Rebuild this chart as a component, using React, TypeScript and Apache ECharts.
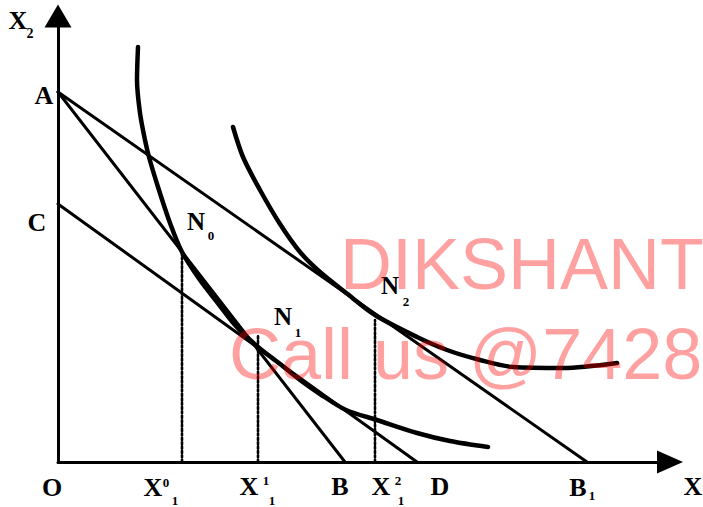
import React, { useEffect, useRef } from "react";
import * as echarts from "echarts";

// Data units: 1 unit = 10 px of the original drawing, origin at O.
const budgetAB1: number[][] = [[0, 37.0], [52.9, 0]];
const budgetAB: number[][] = [[0, 37.0], [28.7, 0]];
const budgetCD: number[][] = [[0, 25.8], [35.9, 0]];

const indiffLow: number[][] = [
  [8.0, 41.5], [7.9, 38.2], [8.2, 34.9], [8.7, 32.2], [9.1, 30.5], [10.0, 27.5],
  [11.2, 23.9], [12.4, 21.0], [14.2, 18.2], [15.9, 16.0], [17.7, 13.7], [20.0, 11.5],
  [22.2, 9.8], [24.2, 8.2], [26.2, 6.8], [28.8, 5.2], [31.9, 4.2], [35.9, 2.9],
  [39.2, 2.1], [43.0, 1.5],
];
const indiffHigh: number[][] = [
  [17.5, 33.5], [18.5, 30.5], [20.2, 27.2], [22.2, 23.8], [24.2, 21.0], [26.2, 19.0],
  [28.7, 17.0], [31.7, 14.7], [35.9, 12.5], [38.9, 11.2], [42.2, 10.2], [45.5, 9.5],
  [50.5, 9.4], [55.9, 9.9],
];
const dropX0: number[][] = [[12.4, 0], [12.4, 21.0]];
const dropX1: number[][] = [[20.0, 0], [20.0, 12.7]];
const dropX2: number[][] = [[31.7, 0], [31.7, 14.2]];

const xMax = 61.2;
const yMax = 44.6;

const watermark1 = "DIKSHANT";
const watermark2 = "Call us @7428";

const SERIF = "'Liberation Serif', 'Times New Roman', serif";

function lbl(text: string, x: number, y: number, size: number) {
  return {
    type: "text",
    x,
    y,
    z: 50,
    style: {
      text,
      fill: "#000",
      font: `bold ${size}px ${SERIF}`,
      textAlign: "center",
      textVerticalAlign: "middle",
    },
  };
}

export default function App() {
  const ref = useRef<HTMLDivElement>(null);
  useEffect(() => {
    if (!ref.current) return;
    const chart = echarts.init(ref.current, null, { renderer: "svg" });
    const lineSeries = (data: number[][], width: number, smooth: number | boolean = false, type: any = "solid") => ({
      type: "line",
      data,
      symbol: "none",
      smooth,
      silent: true,
      lineStyle: { color: "#000", width, type, cap: "round" },
    });
    chart.setOption({
      animation: false,
      backgroundColor: "#fff",
      grid: { left: 58, top: 16, width: 612, height: 446 },
      xAxis: {
        type: "value",
        min: 0,
        max: xMax,
        axisLine: { show: true, onZero: false, symbol: ["none", "triangle"], symbolSize: [23, 26], lineStyle: { color: "#000", width: 3 } },
        axisTick: { show: false },
        axisLabel: { show: false },
        splitLine: { show: false },
      },
      yAxis: {
        type: "value",
        min: 0,
        max: yMax,
        axisLine: { show: true, onZero: false, symbol: ["none", "triangle"], symbolSize: [27, 23], lineStyle: { color: "#000", width: 3 } },
        axisTick: { show: false },
        axisLabel: { show: false },
        splitLine: { show: false },
      },
      series: [
        lineSeries(budgetAB1, 3),
        lineSeries(budgetAB, 3),
        lineSeries(budgetCD, 3),
        lineSeries(indiffLow, 4.5, 0.3),
        lineSeries(indiffHigh, 4.5, 0.3),
        lineSeries(dropX0, 2.6, false, [2.4, 2]),
        lineSeries(dropX1, 2.6, false, [2.4, 2]),
        lineSeries(dropX2, 2.6, false, [2.4, 2]),
      ],
      graphic: [
        lbl("X", 18, 20, 26),
        lbl("2", 30, 33, 14),
        lbl("A", 44, 95, 26),
        lbl("C", 37, 222, 26),
        lbl("O", 52, 487, 26),
        lbl("X", 153, 487, 26),
        lbl("0", 166, 482, 13),
        lbl("1", 175, 500, 13),
        lbl("X", 249, 486, 26),
        lbl("1", 266, 480, 13),
        lbl("1", 272, 500, 13),
        lbl("B", 340, 486, 26),
        lbl("X", 381, 486, 26),
        lbl("2", 398, 480, 13),
        lbl("1", 401, 500, 13),
        lbl("D", 440, 486, 26),
        lbl("B", 578, 487, 26),
        lbl("1", 592, 495, 13),
        lbl("X", 693, 486, 26),
        lbl("N", 196, 221, 25),
        lbl("0", 211, 235, 13),
        lbl("N", 283, 316, 25),
        lbl("1", 298, 332, 13),
        lbl("N", 390, 285, 25),
        lbl("2", 406, 301, 13),
        {
          type: "text",
          x: 340,
          y: 264,
          z: 100,
          style: {
            text: watermark1,
            fill: "rgba(255,0,0,0.37)",
            font: "72px 'Liberation Sans', Arial, sans-serif",
            textAlign: "left",
            textVerticalAlign: "middle",
          },
        },
        {
          type: "text",
          x: 229,
          y: 354,
          z: 100,
          style: {
            text: watermark2,
            fill: "rgba(255,0,0,0.37)",
            font: "72px 'Liberation Sans', Arial, sans-serif",
            textAlign: "left",
            textVerticalAlign: "middle",
          },
        },
      ],
    });
    return () => chart.dispose();
  }, []);
  return (
    <div
      ref={ref}
      style={{ position: "absolute", left: 0, top: 0, width: 703, height: 507, background: "#fff" }}
    />
  );
}
